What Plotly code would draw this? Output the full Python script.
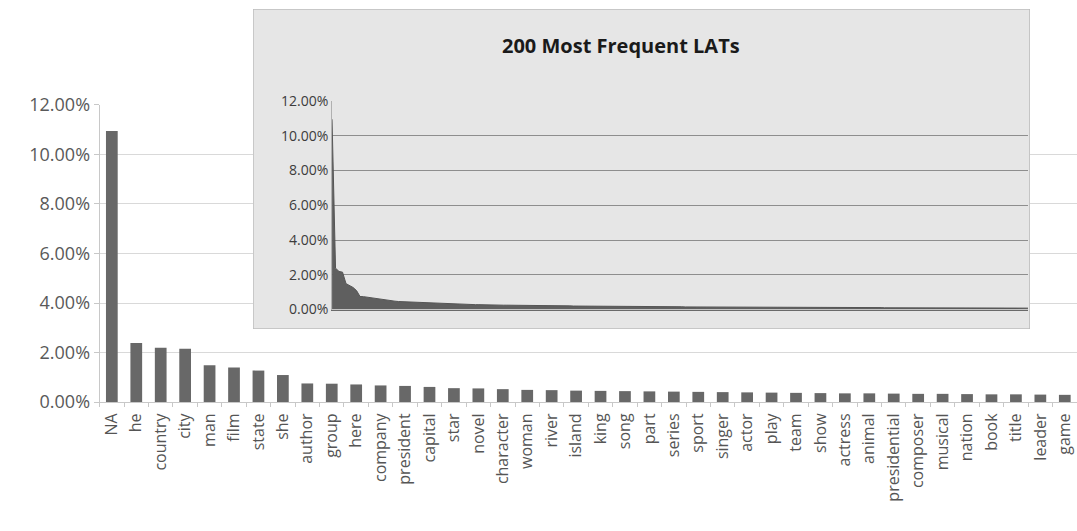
import plotly.graph_objects as go

# ---- data ----
categories = ["NA", "he", "country", "city", "man", "film", "state", "she", "author", "group",
              "here", "company", "president", "capital", "star", "novel", "character", "woman", "river", "island",
              "king", "song", "part", "series", "sport", "singer", "actor", "play", "team", "show",
              "actress", "animal", "presidential", "composer", "musical", "nation", "book", "title", "leader", "game"]

shares = [10.95, 2.38, 2.19, 2.15, 1.49, 1.39, 1.27, 1.09, 0.75, 0.74,
          0.71, 0.67, 0.65, 0.61, 0.56, 0.55, 0.52, 0.49, 0.48, 0.46,
          0.45, 0.44, 0.43, 0.42, 0.41, 0.40, 0.39, 0.38, 0.37, 0.36,
          0.35, 0.35, 0.34, 0.33, 0.33, 0.32, 0.31, 0.31, 0.30, 0.29]

# ranks 41..200 of the inset (estimated from the thin tail of the area)
tail_shares = [0.29, 0.28, 0.28, 0.27, 0.27, 0.27, 0.26, 0.26, 0.26, 0.25,
               0.25, 0.25, 0.24, 0.24, 0.24, 0.24, 0.23, 0.23, 0.23, 0.23,
               0.22, 0.22, 0.22, 0.22, 0.21, 0.21, 0.21, 0.21, 0.21, 0.20,
               0.20, 0.20, 0.20, 0.20, 0.19, 0.19, 0.19, 0.19, 0.19, 0.19,
               0.18, 0.18, 0.18, 0.18, 0.18, 0.18, 0.17, 0.17, 0.17, 0.17,
               0.17, 0.17, 0.17, 0.16, 0.16, 0.16, 0.16, 0.16, 0.16, 0.16,
               0.16, 0.15, 0.15, 0.15, 0.15, 0.15, 0.15, 0.15, 0.15, 0.15,
               0.14, 0.14, 0.14, 0.14, 0.14, 0.14, 0.14, 0.14, 0.14, 0.14,
               0.13, 0.13, 0.13, 0.13, 0.13, 0.13, 0.13, 0.13, 0.13, 0.13,
               0.13, 0.12, 0.12, 0.12, 0.12, 0.12, 0.12, 0.12, 0.12, 0.12,
               0.12, 0.12, 0.12, 0.12, 0.11, 0.11, 0.11, 0.11, 0.11, 0.11,
               0.11, 0.11, 0.11, 0.11, 0.11, 0.11, 0.11, 0.11, 0.10, 0.10,
               0.10, 0.10, 0.10, 0.10, 0.10, 0.10, 0.10, 0.10, 0.10, 0.10,
               0.10, 0.10, 0.10, 0.10, 0.10, 0.10, 0.09, 0.09, 0.09, 0.09,
               0.09, 0.09, 0.09, 0.09, 0.09, 0.09, 0.09, 0.09, 0.09, 0.09,
               0.09, 0.09, 0.09, 0.09, 0.09, 0.08, 0.08, 0.08, 0.08, 0.08]

y_ticks = [0, 2, 4, 6, 8, 10, 12]
y_tick_labels = ["0.00%", "2.00%", "4.00%", "6.00%", "8.00%", "10.00%", "12.00%"]
inset_title = "200 Most Frequent LATs"

inset_values = shares + tail_shares
ranks = list(range(1, len(inset_values) + 1))

FONT = "Open Sans"

fig = go.Figure()

# main bar chart
fig.add_trace(go.Bar(x=categories, y=shares, xaxis="x", yaxis="y",
                     marker=dict(color="#686868", line=dict(width=0)),
                     showlegend=False))

# empty holder subplot for the inset panel background
fig.add_trace(go.Scatter(x=[], y=[], xaxis="x2", yaxis="y2", mode="markers",
                         showlegend=False, hoverinfo="skip"))

# inset area chart
fig.add_trace(go.Scatter(x=ranks, y=inset_values, xaxis="x3", yaxis="y3",
                         mode="lines", fill="tozeroy",
                         line=dict(color="#555555", width=1),
                         fillcolor="#5f5f5f", showlegend=False))

fig.update_layout(
    width=1077, height=531,
    margin=dict(l=0, r=0, t=0, b=0),
    paper_bgcolor="white", plot_bgcolor="rgba(0,0,0,0)",
    showlegend=False,
    bargap=0.52,
    xaxis=dict(domain=[0.0925, 1.0], anchor="y", tickangle=-90,
               ticks="outside", tickson="boundaries", ticklen=4, tickcolor="#c8c8c8",
               showline=True, linecolor="#c8c8c8", showgrid=False, automargin=False,
               ticklabelstandoff=4,
               tickfont=dict(family=FONT, size=16, color="#555555")),
    yaxis=dict(domain=[0.2429, 0.8023], anchor="x", range=[0, 12],
               tickvals=y_ticks, ticktext=y_tick_labels,
               showgrid=True, gridcolor="#d9d9d9",
               gridwidth=1, showline=True, linecolor="#c8c8c8", ticks="outside",
               ticklen=5, tickcolor="#c8c8c8", zeroline=False, automargin=False,
               tickfont=dict(family=FONT, size=18, color="#595959")),
    xaxis2=dict(domain=[0.2349, 0.9563], anchor="y2", range=[0, 1], visible=False),
    yaxis2=dict(domain=[0.3804, 0.983], anchor="x2", range=[0, 1], visible=False),
    xaxis3=dict(domain=[0.3083, 0.9545], anchor="y3", range=[1, 200], showgrid=False,
                showticklabels=False, ticks="", showline=True, linecolor="#6a6a6a",
                zeroline=False, automargin=False),
    yaxis3=dict(domain=[0.4171, 0.8098], anchor="x3", range=[0, 12],
                tickvals=y_ticks, ticktext=y_tick_labels,
                showgrid=True, gridcolor="#8e8e8e",
                gridwidth=1, showline=True, linecolor="#b0b0b0", zeroline=False,
                automargin=False, ticks="",
                tickfont=dict(family=FONT, size=14, color="#3c3c3c")),
    shapes=[dict(type="rect", xref="x2", yref="y2", x0=0, x1=1, y0=0, y1=1,
                 layer="below", fillcolor="#e6e6e6",
                 line=dict(color="#bdbdbd", width=1.5))],
    annotations=[dict(text="<b>" + inset_title + "</b>", xref="paper", yref="paper",
                      x=0.577, y=0.915, xanchor="center", yanchor="middle",
                      showarrow=False,
                      font=dict(family=FONT, size=20, color="#1a1a1a"))],
)

fig.write_html("out.html", config={"displayModeBar": False},
               post_script="document.body.style.margin='0px';document.body.style.overflow='hidden';")
